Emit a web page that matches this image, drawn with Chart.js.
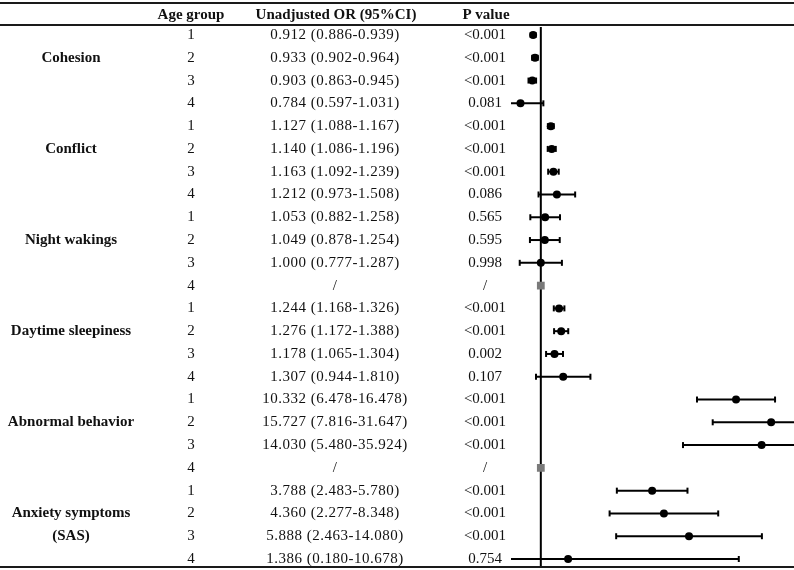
<!DOCTYPE html>
<html>
<head>
<meta charset="utf-8">
<script src="https://cdn.jsdelivr.net/npm/chart.js@4.4.1/dist/chart.umd.min.js"></script>
<style>
html,body{margin:0;padding:0;background:#fff;}
#c{display:block;}
</style>
</head>
<body>
<canvas id="c" width="794" height="570"></canvas>
<script>
// ---- data ----
const groupLabels = [['Cohesion'], ['Conflict'], ['Night wakings'], ['Daytime sleepiness'], ['Abnormal behavior'], ['Anxiety symptoms', '(SAS)']];
const ageGroups = [1,2,3,4, 1,2,3,4, 1,2,3,4, 1,2,3,4, 1,2,3,4, 1,2,3,4];
const orText = [
  '0.912 (0.886-0.939)','0.933 (0.902-0.964)','0.903 (0.863-0.945)','0.784 (0.597-1.031)',
  '1.127 (1.088-1.167)','1.140 (1.086-1.196)','1.163 (1.092-1.239)','1.212 (0.973-1.508)',
  '1.053 (0.882-1.258)','1.049 (0.878-1.254)','1.000 (0.777-1.287)','/',
  '1.244 (1.168-1.326)','1.276 (1.172-1.388)','1.178 (1.065-1.304)','1.307 (0.944-1.810)',
  '10.332 (6.478-16.478)','15.727 (7.816-31.647)','14.030 (5.480-35.924)','/',
  '3.788 (2.483-5.780)','4.360 (2.277-8.348)','5.888 (2.463-14.080)','1.386 (0.180-10.678)'
];
const pText = [
  '<0.001','<0.001','<0.001','0.081',
  '<0.001','<0.001','<0.001','0.086',
  '0.565','0.595','0.998','/',
  '<0.001','<0.001','0.002','0.107',
  '<0.001','<0.001','<0.001','/',
  '<0.001','<0.001','<0.001','0.754'
];
const orValue = [0.912,0.933,0.903,0.784, 1.127,1.140,1.163,1.212, 1.053,1.049,1.000,null, 1.244,1.276,1.178,1.307, 10.332,15.727,14.030,null, 3.788,4.360,5.888,1.386];
const ciLow   = [0.886,0.902,0.863,0.597, 1.088,1.086,1.092,0.973, 0.882,0.878,0.777,null, 1.168,1.172,1.065,0.944, 6.478,7.816,5.480,null, 2.483,2.277,2.463,0.180];
const ciHigh  = [0.939,0.964,0.945,1.031, 1.167,1.196,1.239,1.508, 1.258,1.254,1.287,null, 1.326,1.388,1.304,1.810, 16.478,31.647,35.924,null, 5.780,8.348,14.080,10.678];
const headers = ['Age group', 'Unadjusted OR (95%CI)', 'P value'];

// ---- datasets ----
const rows = orValue.map((v, i) => i + 1);
const datasets = [];
// reference line at OR = 1
datasets.push({
  type: 'line', data: [{x: 1, y: 0.649}, {x: 1, y: 24.351}],
  borderColor: '#000', borderWidth: 2, pointRadius: 0, order: 10, clip: false
});
// confidence intervals
orValue.forEach((v, i) => {
  if (v === null) return;
  datasets.push({
    type: 'line', data: [{x: ciLow[i], y: rows[i]}, {x: ciHigh[i], y: rows[i]}],
    borderColor: '#000', borderWidth: 2,
    pointStyle: 'line', rotation: 90, pointRadius: 3, pointBorderWidth: 2,
    pointBorderColor: '#000', order: 5
  });
});
// point estimates
datasets.push({
  type: 'scatter',
  data: orValue.map((v, i) => v === null ? null : {x: v, y: rows[i]}).filter(d => d),
  backgroundColor: '#000', borderWidth: 0, pointRadius: 4, pointStyle: 'circle', order: 1
});
// missing estimates
datasets.push({
  type: 'scatter',
  data: orValue.map((v, i) => v === null ? {x: 1, y: rows[i]} : null).filter(d => d),
  backgroundColor: '#7a7a7a', borderWidth: 0, pointRadius: 5.5, pointStyle: 'rect', order: 0
});

const FONT = '"Liberation Serif", "Times New Roman", serif';
const tablePlugin = {
  id: 'table',
  afterDraw(chart) {
    const ctx = chart.ctx;
    const ys = chart.scales.y;
    const W = chart.width;
    ctx.save();
    // rules
    ctx.fillStyle = '#1a1a1a';
    ctx.fillRect(0, 2, W, 2);
    ctx.fillRect(0, 24, W, 2);
    ctx.fillRect(0, 566, W, 2);
    ctx.fillStyle = '#111';
    ctx.textAlign = 'center';
    ctx.textBaseline = 'middle';
    // header
    ctx.font = 'bold 15px ' + FONT;
    ctx.fillText(headers[0], 191, 15);
    ctx.fillText(headers[1], 336, 15);
    ctx.fillText(headers[2], 486, 15);
    // group labels
    groupLabels.forEach((lines, g) => {
      lines.forEach((t, k) => {
        ctx.fillText(t, 71, ys.getPixelForValue(g * 4 + 2 + k));
      });
    });
    // rows
    ctx.font = '15px ' + FONT;
    rows.forEach((r, i) => {
      const y = ys.getPixelForValue(r);
      ctx.letterSpacing = '0px';
      ctx.fillText(String(ageGroups[i]), 191, y);
      ctx.fillText(pText[i], 485, y);
      ctx.letterSpacing = '0.5px';
      ctx.fillText(orText[i], 335, y);
    });
    ctx.restore();
  }
};

new Chart(document.getElementById('c'), {
  data: {datasets},
  options: {
    responsive: false,
    animation: false,
    devicePixelRatio: 1,
    layout: {autoPadding: false, padding: {left: 511, right: 0, top: 27, bottom: 3}},
    plugins: {legend: {display: false}, tooltip: {enabled: false}},
    scales: {
      x: {type: 'logarithmic', min: 0.717, max: 20.67, display: false},
      y: {type: 'linear', reverse: true, min: 0.649, max: 24.351, display: false}
    }
  },
  plugins: [tablePlugin]
});
</script>
</body>
</html>
